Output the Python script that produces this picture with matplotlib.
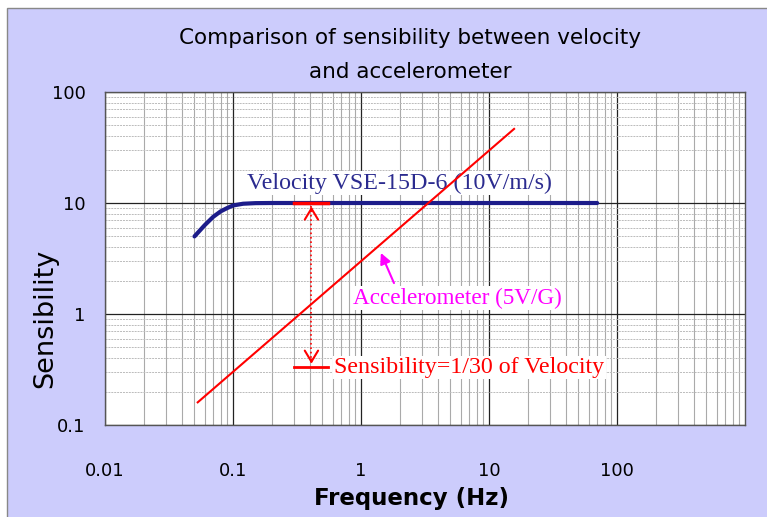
import numpy as np
import matplotlib
matplotlib.use("Agg")
import matplotlib.pyplot as plt
from matplotlib.patches import Rectangle
from matplotlib.ticker import FixedLocator, NullFormatter

plt.rcParams['font.family'] = ['DejaVu Sans']

# velocity sensor response
vel_freq = [0.05, 0.06, 0.07, 0.08, 0.09, 0.1, 0.12, 0.15, 0.2, 0.5, 1, 10, 70]
vel_sens = [5.0, 6.3, 7.5, 8.4, 9.0, 9.5, 9.85, 9.97, 10, 10, 10, 10, 10]

# accelerometer line
acc_freq = [0.053, 15.7]
acc_sens = [0.16, 46.5]

# markers for the 1/30 comparison
mark_x = [0.30, 0.55]
mark_hi = 10
mark_lo = 0.33
mark_f = 0.41

xticks = [0.01, 0.1, 1, 10, 100]
xlabels = ['0.01', '0.1', '1', '10', '100']
yticks = [0.1, 1, 10, 100]
ylabels = ['0.1', '1', '10', '100']

fig = plt.figure(figsize=(7.67, 5.17), dpi=100)
fig.patch.set_facecolor('white')
bg = Rectangle((7/767, -0.1), 1.1, 1 - 8/517 + 0.1, transform=fig.transFigure,
               facecolor='#ccccfc', edgecolor='#888888', lw=1, zorder=-10)
fig.add_artist(bg)

ax = fig.add_axes([105/767, 1 - 425/517, 640/767, 333/517])
ax.set_zorder(1)
ax.set_xscale('log')
ax.set_yscale('log')
ax.set_xlim(0.01, 1000)
ax.set_ylim(0.1, 100)
ax.set_facecolor('white')

minors_x = [m * 10.0**e for e in range(-2, 3) for m in range(2, 10)]
minors_y = [m * 10.0**e for e in range(-1, 2) for m in range(2, 10)]
ax.xaxis.set_major_locator(FixedLocator(xticks))
ax.xaxis.set_minor_locator(FixedLocator(minors_x))
ax.yaxis.set_major_locator(FixedLocator(yticks))
ax.yaxis.set_minor_locator(FixedLocator(minors_y))
ax.set_xticklabels(xlabels)
ax.set_yticklabels(ylabels)
ax.xaxis.set_minor_formatter(NullFormatter())
ax.yaxis.set_minor_formatter(NullFormatter())
ax.tick_params(which='both', length=0)
ax.tick_params(axis='x', pad=27, labelsize=13)
ax.tick_params(axis='y', pad=14, labelsize=13)

ax.grid(True, which='major', color='#222222', lw=0.9)
ax.grid(True, which='minor', axis='x', color='#aaaaaa', lw=0.8)
ax.grid(True, which='minor', axis='y', color='#bbbbbb', lw=0.7, ls=(0, (2, 1)))
ax.set_axisbelow(True)
for s in ax.spines.values():
    s.set_color('#555555')
    s.set_linewidth(1.0)

ax.plot(vel_freq, vel_sens, color='#1c1c8a', lw=3, solid_capstyle='round', zorder=3)
ax.plot(acc_freq, acc_sens, color='#ff0000', lw=1.5, zorder=7)

ax.plot(mark_x, [mark_hi, mark_hi], color='#ff0000', lw=2.5, zorder=5)
ax.plot(mark_x, [mark_lo, mark_lo], color='#ff0000', lw=2, zorder=5)
# dotted double arrow: dotted shaft, solid open heads
ax.plot([mark_f, mark_f], [mark_hi * 0.93, mark_lo * 1.08], color='#ff0000', lw=1.2,
        ls=':', zorder=5)
head = dict(arrowstyle='->,head_length=0.5,head_width=0.3', color='#ff0000', lw=1.5,
            mutation_scale=16, shrinkA=0, shrinkB=0)
ax.annotate('', xy=(mark_f, mark_hi * 0.93), xytext=(mark_f, mark_hi * 0.85),
            arrowprops=head, zorder=5)
ax.annotate('', xy=(mark_f, mark_lo * 1.08), xytext=(mark_f, mark_lo * 1.18),
            arrowprops=head, zorder=5)

serif = ['Liberation Serif', 'DejaVu Serif']
ax.text(1.98, 15.1, 'Velocity VSE-15D-6 (10V/m/s)', color='#2b2b8f', fontsize=17.3,
        family=serif, ha='center', va='center',
        bbox=dict(facecolor='white', edgecolor='none', pad=1), zorder=4)
ax.text(0.87, 1.39, 'Accelerometer (5V/G)', color='#ff00ff', fontsize=16.7,
        family=serif, ha='left', va='center',
        bbox=dict(facecolor='white', edgecolor='none', pad=1), zorder=6)
ax.text(0.62, 0.33, 'Sensibility=1/30 of Velocity', color='#ff0000', fontsize=17.3,
        family=serif, ha='left', va='center',
        bbox=dict(facecolor='white', edgecolor='none', pad=1), zorder=6)
ax.annotate('', xy=(1.43, 3.55), xytext=(1.81, 1.9),
            arrowprops=dict(arrowstyle='-|>', color='#ff00ff', lw=1.5, mutation_scale=16,
                            shrinkA=0, shrinkB=0),
            zorder=6)

fig.text(410/767, 1 - 38/517, 'Comparison of sensibility between velocity',
         ha='center', va='center', fontsize=15.5)
fig.text(410/767, 1 - 72/517, 'and accelerometer', ha='center', va='center', fontsize=15.5)
fig.text(411/767, 1 - 498/517, 'Frequency (Hz)', ha='center', va='center',
         fontsize=16.5, fontweight='bold')
fig.text(45/767, 1 - 318/517, 'Sensibility', ha='center', va='center',
         rotation=90, fontsize=19.5)

fig.savefig('out.png', dpi=100)
